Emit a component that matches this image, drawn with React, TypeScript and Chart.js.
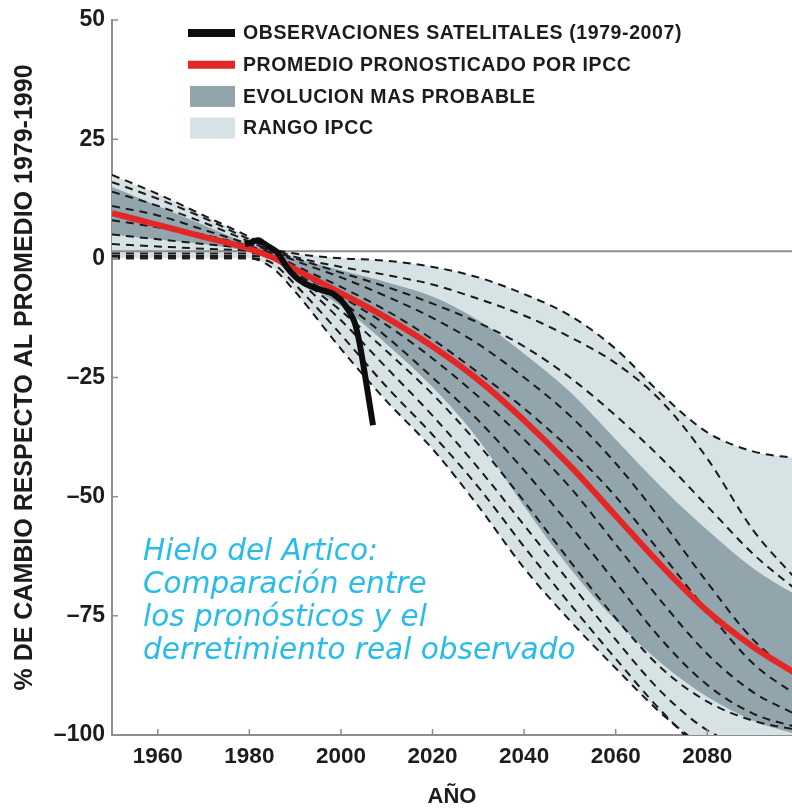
import React, { useEffect, useRef } from 'react';
import { Chart, registerables } from 'chart.js';

Chart.register(...registerables);

// ---------- DATA ----------
const YEARS = [1950, 1960, 1970, 1980, 1985, 1990, 2000, 2010, 2020, 2030, 2040, 2050, 2060, 2070, 2080, 2090, 2100];

const OBS_YEARS = [1979, 1980, 1981, 1982, 1983, 1984, 1985, 1986, 1987, 1988, 1989, 1990, 1991, 1992, 1993, 1994, 1995, 1996, 1997, 1998, 1999, 2000, 2001, 2002, 2003, 2004, 2005, 2006, 2007];
const OBS_VALUES = [3, 3.2, 3.6, 3.8, 3.2, 2.6, 2.0, 1.3, 0, -1.6, -2.8, -3.8, -4.6, -5.2, -5.7, -6.1, -6.4, -6.7, -7, -7.3, -8, -8.8, -10, -11.5, -13.5, -17.5, -23, -29, -35];

const MEAN = [9.5, 7, 4.5, 2, 0.2, -2.3, -7.3, -12.5, -18.5, -25.5, -34, -43.5, -54, -64.5, -74, -81.5, -87.5];

const DARK_UPPER = [15, 11, 7, 3, 1.5, 0, -2.5, -5, -8, -13, -20, -28, -38, -48, -57, -65, -71];
const DARK_LOWER = [5, 4, 3, 1.5, 0.5, -4, -10, -18, -27, -38, -52, -65, -76, -85, -92, -97, -100];
const LIGHT_UPPER = [17.5, 13.5, 9, 4.5, 2, 1, 0, -0.5, -1.8, -4, -7.5, -12, -19, -28.5, -36.5, -40.5, -42];
const LIGHT_LOWER = [0, 0, 0, 0, -2, -7, -19, -30, -40, -52, -65, -76, -86, -95.5, -103, -108, -110];

const MODEL_1 = [17.5, 13.5, 9, 4.5, 2, 1, 0, -0.5, -1.8, -4, -7.5, -12, -19, -28.5, -36.5, -40.5, -42];
const MODEL_2 = [16, 12.5, 8.5, 4, 2, 0.3, -1.8, -3.5, -5.5, -8.5, -12, -16.5, -22, -30, -42, -57, -68];
const MODEL_3 = [14, 11, 7.5, 3.5, 1.5, 0, -3, -6, -9.5, -13.5, -18.5, -25, -33, -42, -52, -62, -70];
const MODEL_4 = [11, 9, 6, 3, 1.5, -0.5, -4, -8, -12.5, -18, -25, -33, -43, -55, -68, -80, -88];
const MODEL_5 = [8, 6.5, 5, 2.5, 1, -1.5, -6, -11, -17, -24, -31.5, -40, -50, -62, -74, -85, -92];
const MODEL_6 = [5, 4, 3, 2, 1, -2.5, -8, -14, -21, -29, -38, -48, -60, -72, -83, -91, -96];
const MODEL_7 = [3, 2.5, 2, 1.5, 0.5, -3, -9, -16.5, -25, -34, -44.5, -56, -68, -80, -89.5, -95.5, -98.5];
const MODEL_8 = [1, 1, 1, 1, 0.5, -3.5, -11, -19.5, -28.5, -39, -51, -63.5, -75.5, -86, -93, -97, -99];
const MODEL_9 = [0.5, 0.5, 0.5, 0.5, 0, -4, -13, -23, -33, -44, -56, -68, -80, -91, -99, -103, -105];
const MODEL_10 = [0, 0, 0, 0, -1, -5.5, -16, -27, -37, -48, -60.5, -72.5, -84, -95, -104, -108, -110];
const MODEL_11 = [0, 0, 0, 0, -2, -7, -19, -30, -40, -52, -65, -76, -86, -95.5, -103, -108, -110];
const MODELS = [MODEL_1, MODEL_2, MODEL_3, MODEL_4, MODEL_5, MODEL_6, MODEL_7, MODEL_8, MODEL_9, MODEL_10, MODEL_11];

const BASELINE = 1.5;
const X_TICKS = [1960, 1980, 2000, 2020, 2040, 2060, 2080];
const Y_TICKS = [-100, -75, -50, -25, 0, 25, 50];

const LABEL_OBS = 'OBSERVACIONES SATELITALES (1979-2007)';
const LABEL_MEAN = 'PROMEDIO PRONOSTICADO POR IPCC';
const LABEL_DARK = 'EVOLUCION MAS PROBABLE';
const LABEL_LIGHT = 'RANGO IPCC';
const X_TITLE = 'AÑO';
const Y_TITLE = '% DE CAMBIO RESPECTO AL PROMEDIO 1979-1990';
const NOTE_LINES = ['Hielo del Artico:', 'Comparación entre', 'los pronósticos y el', 'derretimiento real observado'];

// ---------- STYLE ----------
const C_DARK = '#92a5ac';
const C_LIGHT = '#d7e2e4';
const C_RED = '#e32626';
const C_AXIS = '#8e8e8e';
const C_TEXT = '#1c1c1c';
const C_NOTE = '#27bcea';
const SANS = '"Liberation Sans", Arial, sans-serif';

const pts = (xs: number[], ys: number[]) => xs.map((x, i) => ({ x, y: ys[i] }));

const tickPlugin = {
  id: 'innerTicks',
  afterDatasetsDraw(chart: any) {
    const { ctx, chartArea, scales } = chart;
    ctx.save();
    ctx.strokeStyle = C_AXIS;
    ctx.lineWidth = 1.5;
    ctx.beginPath();
    scales.x.ticks.forEach((t: any) => {
      const px = scales.x.getPixelForValue(t.value);
      ctx.moveTo(px, chartArea.bottom);
      ctx.lineTo(px, chartArea.bottom - 6);
    });
    scales.y.ticks.forEach((t: any) => {
      const py = scales.y.getPixelForValue(t.value);
      ctx.moveTo(chartArea.left, py);
      ctx.lineTo(chartArea.left + 6, py);
    });
    ctx.stroke();
    ctx.restore();
  },
};

const legendPlugin = {
  id: 'insideLegend',
  afterDraw(chart: any) {
    const { ctx, chartArea } = chart;
    const items = chart.data.datasets.filter((d: any) => d.legendKind);
    ctx.save();
    items.forEach((ds: any, i: number) => {
      const y = chartArea.top + 13 + i * 31.7;
      const x0 = chartArea.left + 76;
      const x1 = chartArea.left + 123;
      if (ds.legendKind === 'line') {
        ctx.strokeStyle = ds.borderColor;
        ctx.lineWidth = ds.borderWidth + 2;
        ctx.beginPath();
        ctx.moveTo(x0, y);
        ctx.lineTo(x1, y);
        ctx.stroke();
      } else {
        ctx.fillStyle = ds.backgroundColor;
        ctx.fillRect(x0 + 2, y - 10.5, x1 - x0 - 2, 21);
      }
      ctx.fillStyle = C_TEXT;
      ctx.font = `bold 19.5px ${SANS}`;
      (ctx as any).letterSpacing = '0.6px';
      ctx.textAlign = 'left';
      ctx.textBaseline = 'middle';
      ctx.fillText(ds.label, chartArea.left + 131, y + 1);
      (ctx as any).letterSpacing = '0px';
    });
    ctx.restore();
  },
};

const notePlugin = {
  id: 'note',
  afterDraw(chart: any) {
    const { ctx, chartArea } = chart;
    ctx.save();
    ctx.fillStyle = C_NOTE;
    ctx.font = 'italic 29.5px "DejaVu Sans", sans-serif';
    ctx.textAlign = 'left';
    ctx.textBaseline = 'alphabetic';
    NOTE_LINES.forEach((line, i) => {
      ctx.fillText(line, chartArea.left + 31, chartArea.top + 540 + i * 33);
    });
    ctx.restore();
  },
};

export default function App() {
  const ref = useRef<HTMLCanvasElement | null>(null);

  useEffect(() => {
    if (!ref.current) return;
    const common = { pointRadius: 0, pointHoverRadius: 0, cubicInterpolationMode: 'monotone' as const };
    const datasets: any[] = [
      { ...common, label: LABEL_OBS, legendKind: 'line', data: pts(OBS_YEARS, OBS_VALUES), borderColor: '#0d0d0d', borderWidth: 6, fill: false, order: 0 },
      { ...common, label: LABEL_MEAN, legendKind: 'line', data: pts(YEARS, MEAN), borderColor: C_RED, borderWidth: 6, fill: false, order: 1 },
      ...MODELS.map((m) => ({ ...common, label: '', data: pts(YEARS, m), borderColor: '#1a1a1a', borderWidth: 2, borderDash: [8, 6], fill: false, order: 2 })),
      { ...common, label: '', data: [{ x: 1950, y: BASELINE }, { x: 2100, y: BASELINE }], borderColor: C_AXIS, borderWidth: 2, fill: false, order: 3 },
      { ...common, label: LABEL_DARK, legendKind: 'box', data: pts(YEARS, DARK_UPPER), borderColor: 'transparent', borderWidth: 0, backgroundColor: C_DARK, fill: '+1', order: 5 },
      { ...common, label: '', data: pts(YEARS, DARK_LOWER), borderColor: 'transparent', borderWidth: 0, fill: false, order: 5 },
      { ...common, label: LABEL_LIGHT, legendKind: 'box', data: pts(YEARS, LIGHT_UPPER), borderColor: 'transparent', borderWidth: 0, backgroundColor: C_LIGHT, fill: '+1', order: 6 },
      { ...common, label: '', data: pts(YEARS, LIGHT_LOWER), borderColor: 'transparent', borderWidth: 0, fill: false, order: 6 },
    ];

    const chart = new Chart(ref.current, {
      type: 'line',
      data: { datasets },
      options: {
        animation: false,
        responsive: true,
        maintainAspectRatio: false,
        layout: { padding: { top: 20, left: 0, right: 0, bottom: 0 } },
        plugins: { legend: { display: false }, tooltip: { enabled: false }, title: { display: false } },
        scales: {
          x: {
            type: 'linear',
            min: 1950,
            max: 2098.5,
            afterBuildTicks: (s: any) => { s.ticks = X_TICKS.map((v) => ({ value: v })); },
            afterFit: (s: any) => { s.height = 74; s.paddingLeft = 0; s.paddingRight = 0; },
            grid: { display: false, drawTicks: false },
            border: { display: true, color: C_AXIS, width: 2 },
            ticks: {
              autoSkip: false,
              maxRotation: 0,
              padding: 8,
              color: C_TEXT,
              font: { family: SANS, size: 22.5, weight: 'bold' },
              callback: (v: any) => String(v),
            },
            title: { display: true, text: X_TITLE, color: C_TEXT, font: { family: SANS, size: 22, weight: 'bold', lineHeight: 1.1 }, padding: { top: 0, bottom: 0 } },
          },
          y: {
            type: 'linear',
            min: -100,
            max: 50,
            afterBuildTicks: (s: any) => { s.ticks = Y_TICKS.map((v) => ({ value: v })); },
            afterFit: (s: any) => { s.width = 112; s.paddingTop = 0; s.paddingBottom = 0; },
            grid: { display: false, drawTicks: false },
            border: { display: true, color: C_AXIS, width: 2 },
            ticks: {
              padding: 7,
              color: C_TEXT,
              font: { family: SANS, size: 23, weight: 'bold' },
              callback: (v: any) => (Number(v) < 0 ? '–' + Math.abs(Number(v)) : String(v)),
            },
            title: { display: true, text: Y_TITLE, color: C_TEXT, font: { family: SANS, size: 25, weight: 'bold', lineHeight: 1.2 }, padding: { top: 10, bottom: 0 } },
          },
        },
      },
      plugins: [tickPlugin, legendPlugin, notePlugin],
    });
    return () => chart.destroy();
  }, []);

  return (
    <div style={{ position: 'absolute', left: 0, top: 0, width: 792, height: 809, background: '#fff' }}>
      <canvas ref={ref} style={{ display: 'block' }} />
    </div>
  );
}
